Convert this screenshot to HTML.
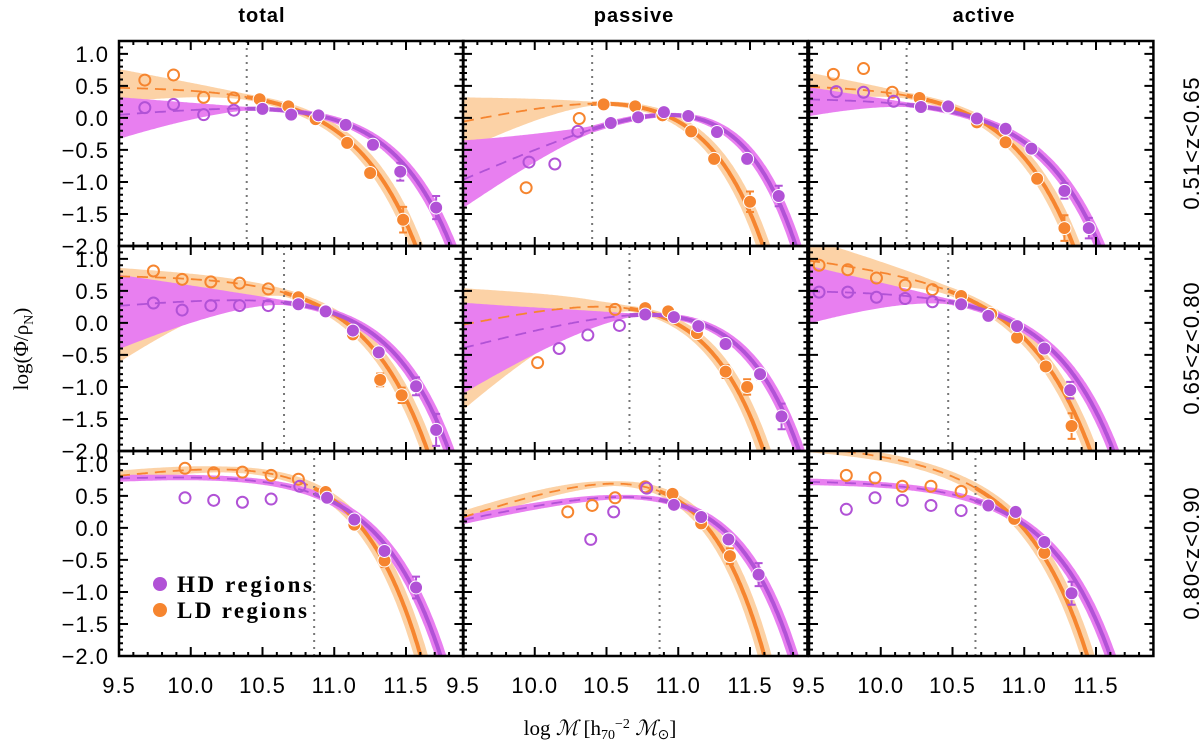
<!DOCTYPE html>
<html><head><meta charset="utf-8"><title>Stellar mass functions</title>
<style>
html,body{margin:0;padding:0;background:#fff;overflow:hidden;width:1200px;height:752px;}
svg{display:block;overflow:hidden;}
.tl{font-family:"Liberation Sans",sans-serif;font-size:22px;fill:#000;letter-spacing:1px;}
.ct{font-family:"Liberation Sans",sans-serif;font-size:20px;font-weight:bold;fill:#000;letter-spacing:1px;}
.sf{font-family:"Liberation Serif",serif;fill:#000;}
</style></head>
<body>
<svg id="chart" width="1200" height="752" viewBox="0 0 1200 752" xmlns="http://www.w3.org/2000/svg">
<text class="ct" x="262" y="22" text-anchor="middle">total</text>
<text class="ct" x="634" y="22" text-anchor="middle">passive</text>
<text class="ct" x="984" y="22" text-anchor="middle">active</text>
<text class="tl" transform="translate(1199,143) rotate(-90)" text-anchor="middle">0.51&lt;z&lt;0.65</text>
<text class="tl" transform="translate(1199,348) rotate(-90)" text-anchor="middle">0.65&lt;z&lt;0.80</text>
<text class="tl" transform="translate(1199,553) rotate(-90)" text-anchor="middle">0.80&lt;z&lt;0.90</text>
<text class="sf" font-size="21" transform="translate(28,349) rotate(-90)" text-anchor="middle">log(Φ/ρ<tspan font-size="14" dy="5">N</tspan><tspan dy="-5">)</tspan></text>
<text class="sf" font-size="21" x="600" y="735" text-anchor="middle">log <tspan font-style="italic">ℳ</tspan> [h<tspan font-size="14" dy="4">70</tspan><tspan font-size="14" dy="-11">−2</tspan><tspan dy="7"> </tspan><tspan font-style="italic">ℳ</tspan><tspan font-size="14" dy="4">⊙</tspan><tspan dy="-4">]</tspan></text>
<g id="plots"></g>
</svg>
<script>
// ---- data (panel order: row1 total, passive, active; row2 ...; row3 ...) ----
const completeness = [10.39,10.40,10.18,10.65,10.66,10.47,10.86,10.87,10.66];
const hdFilledX = [[10.5,10.7,10.89,11.08,11.27,11.46,11.71],[10.53,10.72,10.9,11.07,11.27,11.48,11.7],[10.28,10.47,10.67,10.87,11.05,11.28,11.45],[10.75,10.94,11.13,11.31,11.57,11.71],[10.77,10.97,11.14,11.33,11.57,11.72],[10.56,10.75,10.95,11.14,11.32],[10.95,11.14,11.35,11.57],[10.97,11.16,11.35,11.56],[10.75,10.94,11.14,11.33]];
const hdFilledY = [[0.14,0.05,0.04,-0.11,-0.42,-0.84,-1.40],[-0.08,0.01,0.09,0.03,-0.22,-0.64,-1.22],[0.17,0.18,-0.01,-0.17,-0.48,-1.14,-1.72],[0.29,0.18,-0.12,-0.46,-0.99,-1.67],[0.13,0.09,-0.05,-0.33,-0.80,-1.46],[0.29,0.11,-0.05,-0.40,-1.05],[0.47,0.13,-0.36,-0.93],[0.36,0.17,-0.18,-0.73],[0.35,0.25,-0.22,-1.02]];
const hdErr = [[0.06,0.05,0.05,0.05,0.07,0.14,0.18],[0.03,0.03,0.03,0.03,0.05,0.08,0.16],[0.03,0.03,0.03,0.03,0.05,0.12,0.16],[0.06,0.04,0.04,0.08,0.14,0.25],[0.03,0.03,0.03,0.04,0.08,0.2],[0.03,0.03,0.03,0.03,0.13],[0.04,0.05,0.08,0.17],[0.04,0.05,0.08,0.18],[0.03,0.03,0.04,0.18]];
const ldFilledX = [[10.48,10.68,10.87,11.09,11.25,11.48],[10.48,10.70,10.89,11.09,11.25,11.50],[10.27,10.47,10.67,10.87,11.09,11.28],[10.75,10.94,11.13,11.32,11.47],[10.77,10.93,11.13,11.33,11.48],[10.56,10.77,10.95,11.15,11.33],[10.94,11.14,11.35],[10.96,11.16,11.36],[10.93,11.14]];
const ldFilledY = [[0.29,0.18,-0.02,-0.39,-0.86,-1.59],[0.21,0.18,0.04,-0.21,-0.64,-1.31],[0.31,0.17,-0.07,-0.38,-0.95,-1.72],[0.40,0.19,-0.18,-0.89,-1.13],[0.23,0.18,-0.16,-0.76,-1.00],[0.42,0.14,-0.23,-0.68,-1.61],[0.56,0.05,-0.51],[0.53,0.07,-0.44],[0.14,-0.39]];
const ldErr = [[0.04,0.04,0.04,0.05,0.07,0.2],[0.03,0.03,0.03,0.05,0.08,0.16],[0.03,0.03,0.03,0.04,0.06,0.2],[0.04,0.04,0.04,0.1,0.12],[0.03,0.03,0.04,0.1,0.12],[0.03,0.03,0.03,0.05,0.2],[0.04,0.07,0.1],[0.04,0.06,0.12],[0.04,0.06]];
const hdOpenX = [[9.68,9.88,10.09,10.3],[9.96,10.14,10.30],[9.69,9.88,10.09],[9.74,9.94,10.14,10.34,10.54],[10.17,10.37,10.59],[9.57,9.77,9.97,10.17,10.36],[9.96,10.16,10.36,10.56,10.76],[10.39,10.55,10.78],[9.76,9.96,10.15,10.35,10.56]];
const hdOpenY = [[0.16,0.21,0.05,0.12],[-0.69,-0.72,-0.21],[0.41,0.40,0.26],[0.31,0.20,0.27,0.27,0.27],[-0.40,-0.19,-0.04],[0.48,0.48,0.40,0.38,0.33],[0.47,0.43,0.40,0.45,0.65],[-0.18,0.25,0.62],[0.29,0.47,0.43,0.35,0.27]];
const ldOpenX = [[9.68,9.88,10.09,10.3],[9.94,10.31],[9.67,9.88,10.08],[9.74,9.94,10.14,10.34,10.54],[10.02,10.56],[9.57,9.77,9.97,10.17,10.36],[9.96,10.16,10.36,10.56,10.75],[10.23,10.40,10.56,10.77],[9.76,9.96,10.15,10.35,10.56]];
const ldOpenY = [[0.59,0.67,0.32,0.31],[-1.09,-0.01],[0.68,0.77,0.40],[0.81,0.68,0.64,0.62,0.53],[-0.62,0.21],[0.90,0.83,0.70,0.59,0.52],[0.93,0.86,0.87,0.82,0.76],[0.25,0.35,0.47,0.64],[0.82,0.78,0.65,0.65,0.57]];
// Schechter fit parameters: characteristic mass, slope (alpha+1), normalisation
const hdMstar = [11.05,10.93,10.8,11.0,11.0,10.86,10.9,10.92,10.8];
const hdSlope = [0.2,1.0,0,0.2,0.6,0,0.1,0.5,0];
const hdNorm  = [0.37,0.48,0.31,0.58,0.52,0.51,0.93,0.85,0.74];
const ldMstar = [10.81,10.75,10.58,10.85,10.75,10.7,10.7,10.65,10.6];
const ldSlope = [0,0.5,0,0,0.5,-0.25,0.3,0.8,-0.15];
const ldNorm  = [0.49,0.59,0.52,0.745,0.62,0.70,1.2,1.115,1.13];
// uncertainty band half-widths at low mass (dex)
const hdBandUp = [0.24,0.55,0.16,0.45,0.66,0.37,0.02,0.02,0.02];
const hdBandDn = [0.34,0.38,0.23,0.64,0.66,0.47,0.02,0.02,0.02];
const ldBandUp = [0.26,0.33,0.19,0.10,0.52,0.30,0.04,0.04,0.04];
const ldBandDn = [0.19,0.40,0.20,1.31,1.28,0.42,0.04,0.04,0.04];
const xTicks = ['9.5','10.0','10.5','11.0','11.5'];
const yTicks = ['1.0','0.5','0.0','-0.5','-1.0','-1.5','-2.0'];

// ---- layout ----
const NS='http://www.w3.org/2000/svg';
const colLeft=[119,463,809], rowTop=[41,246,451], PW=344.4, PH=205;
const XMIN=9.5, XMAX=11.9, YMIN=-2.0, YMAX=1.2;
const YCLAMP_LO=-2.3, YCLAMP_HI=1.5;
const P_LINE='#b152d6', P_BAND='#e87ff0', O_LINE='#f6852f', O_BAND='#fcd2a6';
function X(c,v){return colLeft[c]+(v-XMIN)/(XMAX-XMIN)*PW;}
function Y(r,v){return rowTop[r]+(YMAX-v)/(YMAX-YMIN)*PH;}
function cl(v){return Math.min(YCLAMP_HI,Math.max(YCLAMP_LO,v));}
function mk(tag,at){const e=document.createElementNS(NS,tag);for(const k in at)e.setAttribute(k,at[k]);return e;}
function sch(M,s,A,x){const u=x-M;return A+s*u-0.4343*Math.pow(10,u);}
function sl(M,s,x){return s-Math.pow(10,x-M);}
const root=document.getElementById('plots');
const defs=mk('defs',{});root.appendChild(defs);

for(let i=0;i<9;i++){
  const r=Math.floor(i/3), c=i%3;
  const g=mk('g',{});
  
  
  root.appendChild(g);
  const cp=mk('clipPath',{id:'cp'+i});
  cp.appendChild(mk('rect',{x:colLeft[c],y:rowTop[r],width:PW,height:PH}));
  defs.appendChild(cp);
  const cg=mk('g',{'clip-path':'url(#cp'+i+')'});g.appendChild(cg);
  const xp=completeness[i];
  const sets=[
    {n:'ld',M:ldMstar[i],s:ldSlope[i],A:ldNorm[i],bu:ldBandUp[i],bd:ldBandDn[i],line:O_LINE,band:O_BAND,wh:0.045},
    {n:'hd',M:hdMstar[i],s:hdSlope[i],A:hdNorm[i],bu:hdBandUp[i],bd:hdBandDn[i],line:P_LINE,band:P_BAND,wh:0.035}];
  sets.forEach(S=>{
    const up=[],dn=[];
    for(let x=XMIN;x<=XMAX+1e-9;x+=0.01){
      const y=sch(S.M,S.s,S.A,x);
      const t=Math.max(0,(xp-x)/(xp-XMIN));
      const h=0.03+S.wh*Math.abs(sl(S.M,S.s,x));
      up.push(X(c,x).toFixed(1)+','+Y(r,cl(y+S.bu*Math.pow(t,1.3)+h)).toFixed(1));
      dn.unshift(X(c,x).toFixed(1)+','+Y(r,cl(y-S.bd*Math.pow(t,1.3)-h)).toFixed(1));
    }
    const b=mk('polygon',{points:up.concat(dn).join(' '),fill:S.band,stroke:'none'});
    
    
    cg.appendChild(b);
  });
  const vl=mk('line',{x1:X(c,xp),x2:X(c,xp),y1:rowTop[r],y2:rowTop[r]+PH,stroke:'#777','stroke-width':2,'stroke-dasharray':'2,5'});
  
  
  cg.appendChild(vl);
  sets.forEach(S=>{
    let d1='',d2='';
    for(let x=XMIN;x<=xp+1e-9;x+=0.01){d1+=(d1?'L':'M')+X(c,x).toFixed(1)+','+Y(r,cl(sch(S.M,S.s,S.A,x))).toFixed(1);}
    for(let x=xp;x<=XMAX+1e-9;x+=0.005){d2+=(d2?'L':'M')+X(c,x).toFixed(1)+','+Y(r,cl(sch(S.M,S.s,S.A,x))).toFixed(1);}
    const p1=mk('path',{d:d1,fill:'none',stroke:S.line,'stroke-width':1.8,'stroke-dasharray':'11,7'});
    
    
    cg.appendChild(p1);
    const p2=mk('path',{d:d2,fill:'none',stroke:S.line,'stroke-width':4});
    
    
    cg.appendChild(p2);
  });
  [[ldOpenX[i],ldOpenY[i],O_LINE,'ld'],[hdOpenX[i],hdOpenY[i],P_LINE,'hd']].forEach(o=>{
    o[0].forEach((xv,k)=>{
      const m=mk('circle',{cx:X(c,xv),cy:Y(r,o[1][k]),r:5.5,fill:'none',stroke:o[2],'stroke-width':2});
      
      
      cg.appendChild(m);
    });
  });
  [[ldFilledX[i],ldFilledY[i],ldErr[i],O_LINE,'ld'],[hdFilledX[i],hdFilledY[i],hdErr[i],P_LINE,'hd']].forEach(o=>{
    o[0].forEach((xv,k)=>{
      const cx=X(c,xv), e=o[2][k];
      const y1=Y(r,o[1][k]+e), y2=Y(r,o[1][k]-e);
      const eb=mk('path',{d:'M'+cx+','+y1+'V'+y2+'M'+(cx-4)+','+y1+'H'+(cx+4)+'M'+(cx-4)+','+y2+'H'+(cx+4),stroke:o[3],'stroke-width':2,fill:'none'});
      
      
      cg.appendChild(eb);
      const m=mk('circle',{cx:cx,cy:Y(r,o[1][k]),r:6.5,fill:o[3],stroke:'#fff','stroke-width':1});
      
      
      cg.appendChild(m);
    });
  });
  const L=colLeft[c], T=rowTop[r], Rr=L+PW, B=T+PH;
  let td='';
  for(let k=0;k<=24;k++){
    const v=XMIN+k*0.1, x=X(c,v), len=(Math.abs(v*2-Math.round(v*2))<1e-6)?9:4;
    td+='M'+x+','+B+'v'+(-len)+'M'+x+','+T+'v'+len;
  }
  for(let k=0;k<=32;k++){
    const v=YMIN+k*0.1, y=Y(r,v), len=(Math.abs(v*2-Math.round(v*2))<1e-6)?9:4;
    td+='M'+L+','+y+'h'+len+'M'+Rr+','+y+'h'+(-len);
  }
  const tk=mk('path',{d:td,stroke:'#000','stroke-width':2,fill:'none'});
  
  
  g.appendChild(tk);
  const fr=mk('rect',{x:L,y:T,width:PW,height:PH,fill:'none',stroke:'#000','stroke-width':2.5});
  
  
  g.appendChild(fr);
  if(c===0){
    yTicks.forEach(lb=>{
      const t=mk('text',{x:109,y:Y(r,parseFloat(lb))+8,'text-anchor':'end','class':'tl'});
      t.textContent=lb.replace('-','\u2212');
      
      
      g.appendChild(t);
    });
  }
  if(r===2){
    xTicks.forEach(lb=>{
      const t=mk('text',{x:X(c,parseFloat(lb)),y:693,'text-anchor':'middle','class':'tl'});
      t.textContent=lb;
      
      
      g.appendChild(t);
    });
  }
}
const lg=mk('g',{});


root.appendChild(lg);
[['HD regions',P_LINE,584],['LD regions',O_LINE,610]].forEach(e=>{
  const ci=mk('circle',{cx:160,cy:e[2],r:7,fill:e[1]});
  
  
  lg.appendChild(ci);
  const t=mk('text',{x:177,y:e[2]+8,'class':'sf','font-size':23,'font-weight':'bold',textLength:e[0][0]==='H'?135:130});
  t.textContent=e[0];
  
  
  lg.appendChild(t);
});
</script>
</body></html>
